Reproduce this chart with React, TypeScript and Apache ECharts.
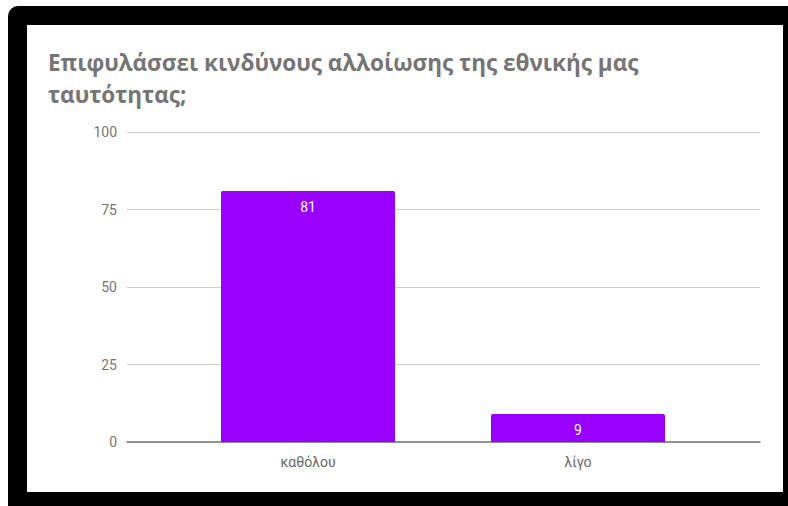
import React, { useEffect, useRef } from "react";
import * as echarts from "echarts";

const titleLines = ["Επιφυλάσσει κινδύνους αλλοίωσης της εθνικής μας", "ταυτότητας;"];
const categories = ["καθόλου", "λίγο"];
const values = [81, 9];
const yMin = 0;
const yMax = 100;
const yInterval = 25;

export default function App() {
  const ref = useRef<HTMLDivElement>(null);
  useEffect(() => {
    if (!ref.current) return;
    const chart = echarts.init(ref.current, undefined, { renderer: "svg" });
    chart.setOption({
      animation: false,
      title: {
        text: titleLines.join("\n"),
        left: 48,
        top: 46,
        padding: 0,
        textStyle: {
          fontFamily: "Open Sans",
          fontWeight: "bold",
          fontSize: 22.5,
          lineHeight: 32,
          color: "#757575",
        },
      },
      grid: [
        { left: 127, right: 28, top: 132, bottom: 64 },
        { left: 173, right: 75, top: 132, bottom: 64 },
      ],
      xAxis: [
        {
          gridIndex: 0,
          type: "category",
          data: [""],
          axisLine: { show: true, lineStyle: { color: "#777", width: 1.5 } },
          axisTick: { show: false },
          axisLabel: { show: false },
        },
        {
          gridIndex: 1,
          type: "category",
          data: categories,
          axisLine: { show: false },
          axisTick: { show: false },
          axisLabel: {
            fontFamily: "Roboto",
            fontSize: 14,
            color: "#666",
            margin: 13,
          },
        },
      ],
      yAxis: [
        {
          gridIndex: 0,
          type: "value",
          min: yMin,
          max: yMax,
          interval: yInterval,
          axisLine: { show: false },
          axisTick: { show: false },
          splitLine: { lineStyle: { color: "#cccccc", width: 1 } },
          axisLabel: {
            fontFamily: "Roboto",
            fontSize: 14,
            color: "#757575",
            margin: 10,
          },
        },
        {
          gridIndex: 1,
          type: "value",
          min: yMin,
          max: yMax,
          interval: yInterval,
          show: false,
        },
      ],
      series: [
        {
          type: "bar",
          xAxisIndex: 1,
          yAxisIndex: 1,
          data: values,
          barWidth: 174,
          z: 3,
          itemStyle: { color: "#9900ff", borderRadius: [2, 2, 0, 0] },
          label: {
            show: true,
            position: "insideTop",
            distance: 9,
            color: "#ffffff",
            fontFamily: "Roboto",
            fontSize: 14,
          },
        },
      ],
    });
    return () => chart.dispose();
  }, []);

  return (
    <div style={{ position: "fixed", left: 0, top: 0, width: 788, height: 506, background: "#ffffff", overflow: "hidden" }}>
      <div style={{ position: "absolute", left: 8, top: 6, width: 800, height: 520, background: "#000000", borderRadius: 10 }} />
      <div style={{ position: "absolute", left: 27, top: 25, width: 756, height: 467, background: "#ffffff" }} />
      <div ref={ref} style={{ position: "absolute", left: 0, top: 0, width: 788, height: 506 }} />
    </div>
  );
}
